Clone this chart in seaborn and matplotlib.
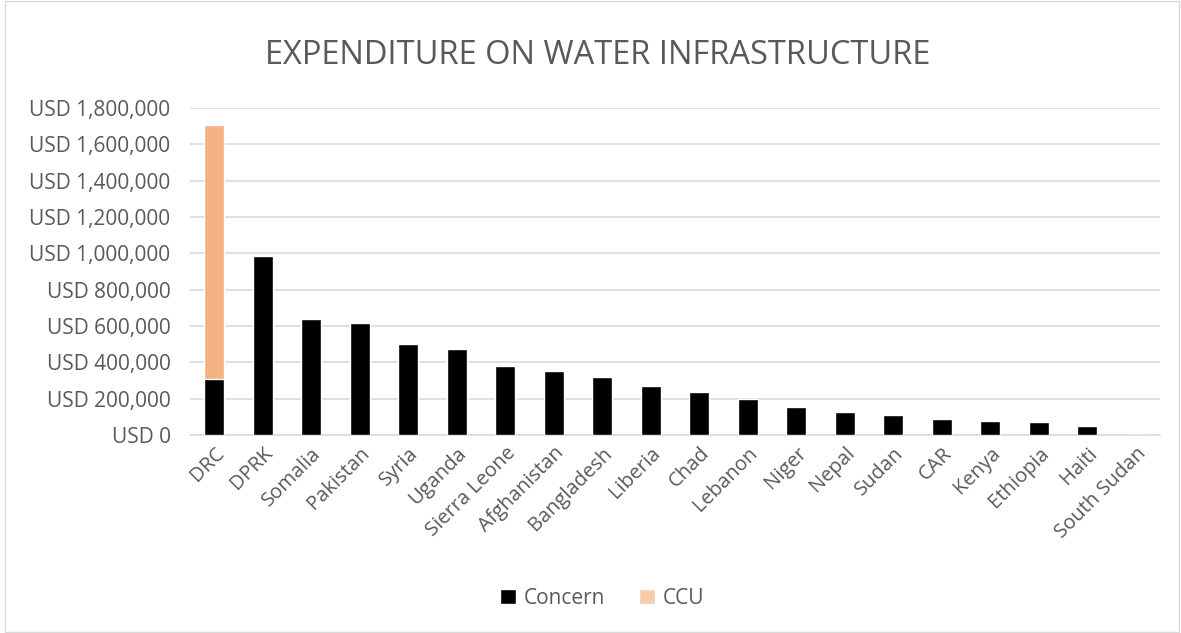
import matplotlib
matplotlib.use("Agg")
import matplotlib.pyplot as plt
import seaborn as sns
import pandas as pd
from matplotlib.patches import Patch, Rectangle
from matplotlib.ticker import FuncFormatter

countries = ["DRC", "DPRK", "Somalia", "Pakistan", "Syria", "Uganda", "Sierra Leone",
             "Afghanistan", "Bangladesh", "Liberia", "Chad", "Lebanon", "Niger", "Nepal",
             "Sudan", "CAR", "Kenya", "Ethiopia", "Haiti", "South Sudan"]
concern = [309000, 985000, 636000, 614000, 503000, 476000, 381000, 353000, 320000, 269000,
           237000, 197000, 155000, 125000, 112000, 90000, 79000, 70000, 50000, 0]
ccu = [1397000, 0, 0, 0, 0, 0, 0, 0, 0, 0, 0, 0, 0, 0, 0, 0, 0, 0, 0, 0]

df = pd.DataFrame({"country": countries, "Concern": concern, "CCU": ccu})
df["Total"] = df["Concern"] + df["CCU"]

sns.set_theme(style="white")
plt.rcParams["font.family"] = ["Open Sans", "DejaVu Sans"]

grey = "#595959"
fig = plt.figure(figsize=(11.81, 6.33), dpi=100)
ax = fig.add_axes([190/1181, 1-435/633, 970/1181, 327/633])

sns.barplot(data=df, x="country", y="Total", color="#F4B183", width=0.41,
            saturation=1, ax=ax, zorder=3)
sns.barplot(data=df, x="country", y="Concern", color="#000000", width=0.41,
            saturation=1, ax=ax, zorder=4)

ax.set_ylim(0, 1800000)
ax.set_xlim(-0.5, len(countries) - 0.5)
ax.set_yticks(range(0, 1800001, 200000))
ax.yaxis.set_major_formatter(FuncFormatter(lambda v, p: f"USD {int(v):,}"))
ax.grid(axis="y", color="#d9d9d9", linewidth=1.2, zorder=0)
ax.set_axisbelow(True)
for s in ["top", "right", "left"]:
    ax.spines[s].set_visible(False)
ax.spines["bottom"].set_color("#d9d9d9")
ax.spines["bottom"].set_linewidth(1.2)
ax.set_xlabel("")
ax.set_ylabel("")
ax.tick_params(axis="y", labelsize=15, colors=grey, length=0, pad=14)
ax.tick_params(axis="x", labelsize=14.5, colors=grey, length=0, pad=6)
plt.setp(ax.get_xticklabels(), rotation=45, ha="right", rotation_mode="anchor")

fig.text(0.506, 1-55/633, "EXPENDITURE ON WATER INFRASTRUCTURE", ha="center", va="center",
         fontsize=23.5, color=grey)

handles = [Patch(facecolor="#000000", label="Concern"), Patch(facecolor="#F8CBAD", label="CCU")]
fig.legend(handles=handles, loc="center", bbox_to_anchor=(0.51, 1-598/633), ncol=2,
           frameon=False, fontsize=15, labelcolor=grey, handlelength=0.75, handleheight=0.75,
           columnspacing=1.6, handletextpad=0.4)

fig.patches.append(Rectangle((0.004, 0.002), 0.994, 0.996, transform=fig.transFigure,
                             fill=False, edgecolor="#d9d9d9", linewidth=1))

fig.savefig("out.png", dpi=100, facecolor="white")
